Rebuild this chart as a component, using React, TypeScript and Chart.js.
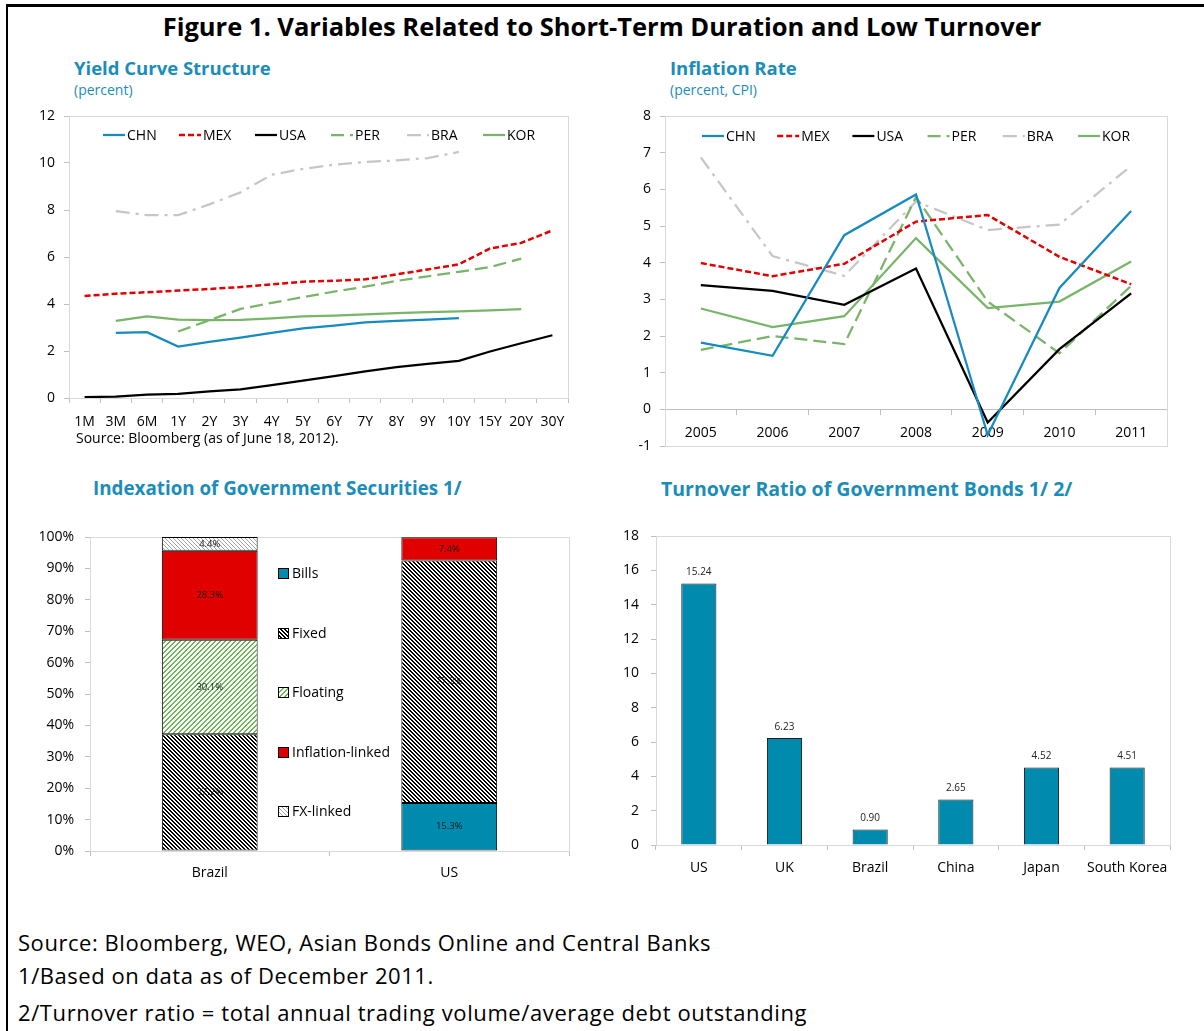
import React, { useEffect, useRef } from 'react';
import { Chart, registerables } from 'chart.js';

Chart.register(...registerables);

const FONT = "'Open Sans', 'DejaVu Sans', sans-serif";
const TEAL_TEXT = '#1A8DBA';

// ---------- Yield curve data ----------
const maturities = ['1M', '3M', '6M', '1Y', '2Y', '3Y', '4Y', '5Y', '6Y', '7Y', '8Y', '9Y', '10Y', '15Y', '20Y', '30Y'];
const yieldCHN = [null, 2.77, 2.80, 2.19, 2.39, 2.57, 2.77, 2.96, 3.08, 3.22, 3.28, 3.34, 3.40, null, null, null];
const yieldMEX = [4.34, 4.44, 4.50, 4.57, 4.64, 4.72, 4.84, 4.95, 4.99, 5.05, 5.26, 5.47, 5.69, 6.36, 6.60, 7.13];
const yieldUSA = [0.04, 0.06, 0.14, 0.18, 0.28, 0.37, 0.55, 0.74, 0.93, 1.13, 1.31, 1.45, 1.58, 1.98, 2.33, 2.67];
const yieldPER = [null, null, null, 2.83, 3.31, 3.79, 4.05, 4.29, 4.53, 4.74, 4.98, 5.18, 5.37, 5.57, 5.93, null];
const yieldBRA = [null, 7.95, 7.78, 7.78, 8.24, 8.75, 9.50, 9.75, 9.93, 10.04, 10.11, 10.21, 10.47, null, null, null];
const yieldKOR = [null, 3.28, 3.47, 3.34, 3.31, 3.32, 3.39, 3.47, 3.51, 3.56, 3.61, 3.65, 3.69, 3.73, 3.78, null];
const yieldTicks = [0, 2, 4, 6, 8, 10, 12];

// ---------- Inflation data ----------
const years = ['2005', '2006', '2007', '2008', '2009', '2010', '2011'];
const inflCHN = [1.82, 1.46, 4.75, 5.86, -0.70, 3.31, 5.41];
const inflMEX = [3.99, 3.63, 3.97, 5.12, 5.30, 4.16, 3.41];
const inflUSA = [3.39, 3.23, 2.85, 3.84, -0.36, 1.64, 3.16];
const inflPER = [1.62, 2.00, 1.78, 5.79, 2.94, 1.53, 3.37];
const inflBRA = [6.87, 4.18, 3.64, 5.67, 4.89, 5.04, 6.64];
const inflKOR = [2.75, 2.24, 2.54, 4.67, 2.76, 2.94, 4.03];

// ---------- Indexation data (percent of total) ----------
const indexCountries = ['Brazil', 'US'];
const billsShare = [null, 15.3];
const fixedShare = [37.2, 77.2];
const floatingShare = [30.1, null];
const inflationLinkedShare = [28.3, 7.4];
const fxLinkedShare = [4.4, null];

// ---------- Turnover data ----------
const turnoverCountries = ['US', 'UK', 'Brazil', 'China', 'Japan', 'South Korea'];
const turnoverRatio = [15.24, 6.23, 0.90, 2.65, 4.52, 4.51];

// ---------- colours ----------
const C_CHN = '#178BBF';
const C_MEX = '#E30000';
const C_USA = '#000000';
const C_GREEN = '#79B568';
const C_BRA = '#C6C6C6';
const C_BILLS = '#008BAE';
const C_RED = '#E00000';
const AXIS = '#BFBFBF';
const FRAME = '#D9D9D9';

function makePattern(ctx: CanvasRenderingContext2D, color: string, dir: 'down' | 'up', thick: number, period: number) {
  const tile = document.createElement('canvas');
  tile.width = period;
  tile.height = period;
  const tctx = tile.getContext('2d')!;
  tctx.fillStyle = '#ffffff';
  tctx.fillRect(0, 0, period, period);
  tctx.fillStyle = color;
  for (let y = 0; y < period; y++) {
    for (let x = 0; x < period; x++) {
      const d = dir === 'down' ? x - y : x + y;
      if ((((d % period) + period) % period) < thick) tctx.fillRect(x, y, 1, 1);
    }
  }
  return ctx.createPattern(tile, 'repeat')!;
}

const framePlugin = {
  id: 'frame',
  beforeDatasetsDraw(chart: any) {
    const { ctx, chartArea: a } = chart;
    ctx.save();
    ctx.strokeStyle = FRAME;
    ctx.lineWidth = 1;
    ctx.strokeRect(Math.round(a.left) + 0.5, Math.round(a.top) + 0.5, Math.round(a.right - a.left), Math.round(a.bottom - a.top));
    ctx.restore();
  },
};

const lineLegendPlugin = {
  id: 'lineLegend',
  afterDraw(chart: any, _args: any, opts: any) {
    const { ctx, chartArea } = chart;
    ctx.save();
    ctx.font = `14px ${FONT}`;
    ctx.textBaseline = 'middle';
    ctx.textAlign = 'left';
    chart.data.datasets.forEach((ds: any, i: number) => {
      const x = chartArea.left + opts.offsetX + i * opts.spacing;
      const y = chartArea.top + opts.offsetY;
      ctx.strokeStyle = ds.borderColor;
      ctx.lineWidth = ds.borderWidth;
      ctx.setLineDash(ds.borderDash || []);
      ctx.beginPath();
      ctx.moveTo(x, y);
      ctx.lineTo(x + opts.lineLength, y);
      ctx.stroke();
      ctx.setLineDash([]);
      ctx.fillStyle = '#000';
      ctx.fillText(ds.label, x + opts.lineLength + 2, y + 1);
    });
    ctx.restore();
  },
};

const barLabelPlugin = {
  id: 'barLabels',
  afterDatasetsDraw(chart: any, _args: any, opts: any) {
    const { ctx } = chart;
    ctx.save();
    ctx.font = opts.font;
    ctx.fillStyle = opts.color;
    ctx.textAlign = 'center';
    ctx.textBaseline = 'middle';
    chart.data.datasets.forEach((ds: any, di: number) => {
      const meta = chart.getDatasetMeta(di);
      meta.data.forEach((el: any, i: number) => {
        const v = ds.data[i];
        if (v == null) return;
        const { x, y, base } = el.getProps(['x', 'y', 'base'], true);
        const text = opts.suffix ? v.toFixed(1) + opts.suffix : v.toFixed(2);
        if (opts.mode === 'center') ctx.fillText(text, x, (y + base) / 2);
        else ctx.fillText(text, x, y - opts.offset);
      });
    });
    ctx.restore();
  },
};

const boxLegendPlugin = {
  id: 'boxLegend',
  afterDraw(chart: any, _args: any, opts: any) {
    const { ctx, chartArea } = chart;
    ctx.save();
    ctx.font = `14px ${FONT}`;
    ctx.textBaseline = 'middle';
    ctx.textAlign = 'left';
    chart.data.datasets.forEach((ds: any, i: number) => {
      const x = Math.round(chartArea.left + opts.offsetX);
      const y = Math.round(chartArea.top + opts.offsetY + i * opts.spacing);
      ctx.fillStyle = ds.backgroundColor;
      ctx.fillRect(x, y - 5, 10, 10);
      ctx.strokeStyle = '#000';
      ctx.lineWidth = 1;
      ctx.strokeRect(x + 0.5, y - 4.5, 10, 10);
      ctx.fillStyle = '#000';
      ctx.fillText(ds.label, x + 14, y + 1);
    });
    ctx.restore();
  },
};

const tickFont = { family: FONT, size: 14 };

const fixY = (w: number) => (s: any) => {
  s.width = w;
  s.paddingTop = 0;
  s.paddingBottom = 0;
};
const fixX = (h?: number) => (s: any) => {
  if (h !== undefined) s.height = h;
  s.paddingLeft = 0;
  s.paddingRight = 0;
};

function lineDs(label: string, data: (number | null)[], color: string, dash: number[] = [], width = 2.25) {
  return {
    label,
    data,
    borderColor: color,
    backgroundColor: color,
    borderWidth: width,
    borderDash: dash,
    pointRadius: 0,
    tension: 0,
    fill: false,
    spanGaps: false,
  };
}

function lineDatasets(chn: any, mex: any, usa: any, per: any, bra: any, kor: any) {
  return [
    lineDs('CHN', chn, C_CHN),
    lineDs('MEX', mex, C_MEX, [6, 3], 2.5),
    lineDs('USA', usa, C_USA, [], 2.25),
    lineDs('PER', per, C_GREEN, [13, 6]),
    lineDs('BRA', bra, C_BRA, [14, 6, 3, 6]),
    lineDs('KOR', kor, C_GREEN),
  ];
}

function yieldConfig() {
  return {
    type: 'line',
    data: {
      labels: maturities,
      datasets: lineDatasets(yieldCHN, yieldMEX, yieldUSA, yieldPER, yieldBRA, yieldKOR),
    },
    options: {
      responsive: false,
      animation: false,
      layout: { padding: { left: 0, top: 10, right: 12, bottom: 0 } },
      plugins: {
        legend: { display: false },
        tooltip: { enabled: false },
        lineLegend: { offsetX: 34, offsetY: 19, spacing: 76, lineLength: 22 },
      },
      scales: {
        x: {
          type: 'category',
          offset: true,
          grid: { offset: true, drawOnChartArea: false, color: AXIS, tickLength: 5 },
          border: { color: AXIS },
          ticks: { font: tickFont, color: '#000', padding: 11, maxRotation: 0, minRotation: 0, autoSkip: false },
          afterFit: fixX(28),
        },
        y: {
          min: 0,
          max: 12,
          afterBuildTicks: (s: any) => { s.ticks = yieldTicks.map((v) => ({ value: v })); },
          grid: { drawOnChartArea: false, color: AXIS, tickLength: 5 },
          border: { color: AXIS },
          ticks: { font: tickFont, color: '#000', padding: 9 },
          afterFit: fixY(49),
        },
      },
    },
    plugins: [framePlugin, lineLegendPlugin],
  };
}

function inflationConfig() {
  return {
    type: 'line',
    data: {
      labels: years,
      datasets: lineDatasets(inflCHN, inflMEX, inflUSA, inflPER, inflBRA, inflKOR),
    },
    options: {
      responsive: false,
      animation: false,
      layout: { padding: { left: 0, top: 10, right: 10, bottom: 4 } },
      plugins: {
        legend: { display: false },
        tooltip: { enabled: false },
        lineLegend: { offsetX: 37, offsetY: 20, spacing: 75.2, lineLength: 22 },
      },
      scales: {
        x: {
          type: 'category',
          position: { y: 0 },
          offset: true,
          grid: { offset: true, drawOnChartArea: false, color: AXIS, tickLength: 5 },
          border: { color: AXIS },
          ticks: { font: tickFont, color: '#000', padding: 10, maxRotation: 0, minRotation: 0, autoSkip: false },
          afterFit: fixX(),
        },
        y: {
          min: -1,
          max: 8,
          ticks: { stepSize: 1, font: tickFont, color: '#000', padding: 9 },
          grid: { drawOnChartArea: false, color: AXIS, tickLength: 5 },
          border: { color: AXIS },
          afterFit: fixY(35),
        },
      },
    },
    plugins: [framePlugin, lineLegendPlugin],
  };
}

function indexationConfig(ctx: CanvasRenderingContext2D) {
  const fixedPat = makePattern(ctx, '#000000', 'down', 2, 4);
  const floatPat = makePattern(ctx, '#6DB857', 'up', 2, 5);
  const fxPat = makePattern(ctx, '#A0A0A0', 'down', 1, 4);
  const common = { borderColor: '#000', borderWidth: 1, borderSkipped: false, categoryPercentage: 1, barPercentage: 0.4 };
  return {
    type: 'bar',
    data: {
      labels: indexCountries,
      datasets: [
        { label: 'Bills', data: billsShare, backgroundColor: C_BILLS, ...common },
        { label: 'Fixed', data: fixedShare, backgroundColor: fixedPat, ...common },
        { label: 'Floating', data: floatingShare, backgroundColor: floatPat, ...common },
        { label: 'Inflation-linked', data: inflationLinkedShare, backgroundColor: C_RED, ...common },
        { label: 'FX-linked', data: fxLinkedShare, backgroundColor: fxPat, ...common },
      ],
    },
    options: {
      responsive: false,
      animation: false,
      layout: { padding: { left: 0, top: 12, right: 10, bottom: 0 } },
      plugins: {
        legend: { display: false },
        tooltip: { enabled: false },
        barLabels: { mode: 'center', font: `9.5px ${FONT}`, color: '#1a1a1a', suffix: '%' },
        boxLegend: { offsetX: 188, offsetY: 36, spacing: 59.5 },
      },
      scales: {
        x: {
          stacked: true,
          grid: { offset: true, drawOnChartArea: false, color: AXIS, tickLength: 5 },
          border: { color: AXIS },
          ticks: { font: tickFont, color: '#000', padding: 9, maxRotation: 0, minRotation: 0 },
          afterFit: fixX(39),
        },
        y: {
          stacked: true,
          min: 0,
          max: 100,
          ticks: { stepSize: 10, font: tickFont, color: '#000', padding: 11, callback: (v: any) => v + '%' },
          grid: { drawOnChartArea: false, color: AXIS, tickLength: 5 },
          border: { color: AXIS },
          afterFit: fixY(70),
        },
      },
    },
    plugins: [framePlugin, barLabelPlugin, boxLegendPlugin],
  };
}

function turnoverConfig() {
  return {
    type: 'bar',
    data: {
      labels: turnoverCountries,
      datasets: [
        {
          label: 'Turnover ratio',
          data: turnoverRatio,
          backgroundColor: C_BILLS,
          borderColor: '#1a1a1a',
          borderWidth: 1,
          borderSkipped: 'bottom',
          categoryPercentage: 1,
          barPercentage: 0.41,
        },
      ],
    },
    options: {
      responsive: false,
      animation: false,
      layout: { padding: { left: 0, top: 11, right: 10, bottom: 0 } },
      plugins: {
        legend: { display: false },
        tooltip: { enabled: false },
        barLabels: { mode: 'top', offset: 11, font: `10px ${FONT}`, color: '#222' },
      },
      scales: {
        x: {
          grid: { offset: true, drawOnChartArea: false, color: AXIS, tickLength: 5 },
          border: { color: AXIS },
          ticks: { font: tickFont, color: '#000', padding: 10, maxRotation: 0, minRotation: 0, autoSkip: false },
          afterFit: fixX(45),
        },
        y: {
          min: 0,
          max: 18,
          ticks: { stepSize: 2, font: tickFont, color: '#000', padding: 12 },
          grid: { drawOnChartArea: false, color: AXIS, tickLength: 5 },
          border: { color: AXIS },
          afterFit: fixY(56),
        },
      },
    },
    plugins: [framePlugin, barLabelPlugin],
  };
}

function ChartBox(props: { left: number; top: number; width: number; height: number; make: (ctx: CanvasRenderingContext2D) => any }) {
  const ref = useRef<HTMLCanvasElement>(null);
  useEffect(() => {
    const canvas = ref.current!;
    const ctx = canvas.getContext('2d')!;
    const chart = new Chart(canvas, props.make(ctx));
    return () => chart.destroy();
  }, []);
  const { left, top, width, height } = props;
  return (
    <div style={{ position: 'absolute', left, top, width, height }}>
      <canvas ref={ref} width={width} height={height} style={{ width, height, display: 'block' }} />
    </div>
  );
}

function Text(props: { x: number; cy: number; size: number; bold?: boolean; color?: string; children: any; center?: boolean; spacing?: number }) {
  const h = 40;
  return (
    <div
      style={{
        position: 'absolute',
        left: props.center ? 0 : props.x,
        width: props.center ? 1204 : undefined,
        textAlign: props.center ? 'center' : 'left',
        top: props.cy - h / 2,
        height: h,
        lineHeight: `${h}px`,
        fontSize: props.size,
        fontWeight: props.bold ? 700 : 400,
        color: props.color || '#000',
        fontFamily: FONT,
        letterSpacing: props.spacing ? `${props.spacing}px` : undefined,
        whiteSpace: 'nowrap',
      }}
    >
      {props.children}
    </div>
  );
}

export default function App() {
  return (
    <div style={{ position: 'absolute', left: 0, top: 0, width: 1204, height: 1031, background: '#fff', overflow: 'hidden' }}>
      <div style={{ position: 'absolute', left: 6, top: 4, width: 1198, height: 3, background: '#000' }} />
      <div style={{ position: 'absolute', left: 6, top: 4, width: 2, height: 1027, background: '#000' }} />

      <Text x={0} cy={26} size={25.5} bold center>Figure 1. Variables Related to Short-Term Duration and Low Turnover</Text>

      <Text x={74} cy={68} size={18.5} bold color={TEAL_TEXT}>Yield Curve Structure</Text>
      <Text x={74} cy={90} size={14} color={TEAL_TEXT}>(percent)</Text>
      <Text x={670} cy={68} size={18.5} bold color={TEAL_TEXT}>Inflation Rate</Text>
      <Text x={670} cy={90} size={14} color={TEAL_TEXT}>(percent, CPI)</Text>

      <ChartBox left={20} top={106} width={560} height={320} make={() => yieldConfig()} />
      <ChartBox left={630} top={106} width={547} height={344} make={() => inflationConfig()} />

      <Text x={76} cy={438} size={14}>Source: Bloomberg (as of June 18, 2012).</Text>

      <Text x={93} cy={488} size={18.8} bold color={TEAL_TEXT}>Indexation of Government Securities 1/</Text>
      <Text x={661} cy={489} size={19.5} bold color={TEAL_TEXT}>Turnover Ratio of Government Bonds 1/ 2/</Text>

      <ChartBox left={20} top={525} width={559} height={365} make={(ctx) => indexationConfig(ctx)} />
      <ChartBox left={600} top={525} width={580} height={365} make={() => turnoverConfig()} />

      <Text x={18} cy={942} size={22} spacing={0.55}>Source: Bloomberg, WEO, Asian Bonds Online and Central Banks</Text>
      <Text x={18} cy={975} size={22} spacing={0.55}>1/Based on data as of December 2011.</Text>
      <Text x={18} cy={1012} size={22} spacing={0.6}>2/Turnover ratio = total annual trading volume/average debt outstanding</Text>
    </div>
  );
}
